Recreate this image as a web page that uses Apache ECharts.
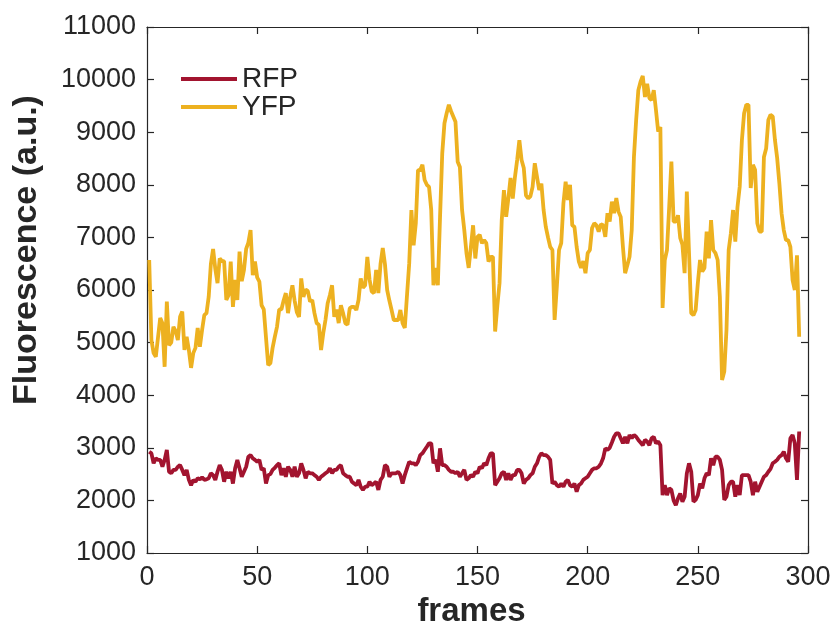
<!DOCTYPE html>
<html>
<head>
<meta charset="utf-8">
<script src="https://cdn.jsdelivr.net/npm/echarts@6/dist/echarts.min.js"></script>
<style>
  html, body { margin: 0; padding: 0; background: #fff; }
  #chart { width: 835px; height: 621px; }
</style>
</head>
<body>
<div id="chart"></div>
<script>
// fluorescence per frame (frames 1..296)
const rfp = [
  2926, 2895, 2705, 2800, 2770, 2770, 2640, 2770, 2958, 2545,
  2515, 2580, 2580, 2640, 2670, 2580, 2480, 2580, 2390, 2290,
  2390, 2355, 2420, 2400, 2440, 2390, 2400, 2420, 2515, 2480,
  2390, 2545, 2670, 2580, 2355, 2545, 2420, 2545, 2320, 2610,
  2770, 2610, 2450, 2545, 2640, 2830, 2860, 2800, 2770, 2735,
  2770, 2580, 2610, 2320, 2480, 2500, 2580, 2620, 2670, 2705,
  2480, 2610, 2450, 2640, 2580, 2450, 2640, 2450, 2515, 2705,
  2580, 2420, 2545, 2515, 2515, 2480, 2450, 2390, 2450, 2480,
  2515, 2545, 2610, 2515, 2580, 2580, 2640, 2670, 2515, 2480,
  2450, 2450, 2355, 2320, 2290, 2390, 2260, 2200, 2260, 2260,
  2355, 2290, 2320, 2355, 2200, 2390, 2450, 2670, 2640, 2450,
  2515, 2515, 2515, 2545, 2480, 2320, 2480, 2610, 2735, 2705,
  2705, 2670, 2735, 2860, 2895, 2958, 3020, 3085, 3085, 2705,
  2770, 2545, 2990, 2670, 2670, 2640, 2580, 2545, 2545, 2515,
  2545, 2450, 2515, 2580, 2390, 2420, 2480, 2450, 2545, 2515,
  2640, 2610, 2705, 2670, 2800, 2895, 2895, 2290, 2355, 2420,
  2515, 2545, 2390, 2515, 2390, 2480, 2480, 2580, 2580, 2515,
  2320, 2390, 2420, 2480, 2515, 2640, 2705, 2830, 2895, 2860,
  2860, 2830, 2770, 2320, 2355, 2290, 2260, 2320, 2260, 2355,
  2390, 2290, 2260, 2320, 2165, 2290, 2320, 2390, 2420, 2450,
  2515, 2580, 2610, 2610, 2640, 2700, 2800, 2990, 2958, 3000,
  3100, 3210, 3275, 3275, 3180, 3085, 3210, 3085, 3245, 3180,
  3245, 3210, 3150, 3100, 3050, 3150, 3120, 3050, 3180, 3210,
  3085, 3120, 3050, 2100, 2290, 2100, 2230, 2200, 2000, 1910,
  2040, 2130, 1975, 2070, 2515, 2705, 2545, 1975, 2010, 2100,
  2320, 2230, 2420, 2515, 2480, 2800, 2670, 2830, 2830, 2770,
  2580, 2010, 2070, 2290, 2355, 2355, 2070, 2290, 2100, 2480,
  2480, 2480, 2480, 2355, 2100, 2355, 2165, 2260, 2355, 2450,
  2480, 2545, 2600, 2705, 2735, 2770, 2830, 2860, 2926, 2800,
  2735, 3180, 3245, 3085, 2390, 3310
];
const yfp = [
  6570, 5050, 4800, 4730, 5100, 5470, 5370, 4540, 5780, 4950,
  5000, 5300, 5220, 5050, 5490, 5590, 4860, 5110, 4860, 4520,
  4800, 4900, 5280, 4920, 5240, 5520, 5560, 5870, 6500, 6780,
  6400, 6130, 6600, 6550, 6550, 5810, 5900, 6540, 5680, 6190,
  5810, 6730, 6170, 6380, 6780, 6900, 7140, 6280, 6540, 6240,
  6160, 5710, 5630, 5100, 4570, 4610, 4900, 5110, 5300, 5630,
  5630, 5800, 5940, 5560, 5870, 6090, 5800, 5580, 5490, 6220,
  5870, 6010, 5980, 5780, 5810, 5560, 5370, 5340, 4860, 5180,
  5430, 5750, 5900, 6090, 5490, 5630, 5370, 5710, 5560, 5370,
  5340, 5650, 5680, 5680, 5620, 5810, 6220, 6040, 6090, 6630,
  6200, 5970, 5940, 6380, 5940, 6500, 6800, 6490, 6000, 5800,
  5620, 5430, 5430, 5430, 5620, 5370, 5280, 5900, 6500, 7520,
  6850, 7270, 8280, 8280, 8380, 8090, 8000, 7960, 7520, 6090,
  6420, 6090, 7390, 8600, 9170, 9360, 9520, 9400, 9300, 9200,
  8440, 8340, 7520, 7140, 6700, 6420, 6820, 7230, 6600, 7010,
  7050, 6890, 6950, 6890, 6540, 6630, 6630, 5210, 5700, 6130,
  7330, 7900, 7390, 7740, 8130, 7740, 8150, 8470, 8850, 8470,
  8320, 7800, 7740, 7780, 7960, 8410, 8150, 7900, 8020, 7520,
  7200, 7000, 6820, 6760, 5430, 6060, 6760, 6890, 7650, 8060,
  7710, 8000, 7230, 7200, 6820, 6540, 6420, 6550, 6320, 6700,
  6760, 7180, 7270, 7230, 7110, 7250, 7230, 7010, 7460, 7300,
  7680, 7460, 7750, 7490, 7390, 6820, 6320, 6470, 6630, 7140,
  8530, 9230, 9800, 9960, 10070, 9670, 9920, 9650, 9610, 9800,
  9420, 9010, 9100, 5660, 6570, 6760, 7580, 8440, 7300, 7300,
  7420, 6990, 6860, 6320, 7870, 6700, 5560, 5520, 5620, 6130,
  6570, 6350, 6420, 7110, 6600, 7330, 6760, 6700, 6570, 5870,
  4290, 4450, 5240, 6760, 7080, 7520, 6920, 7580, 7960, 8850,
  9360, 9520, 9520, 7940, 8380, 8280, 7270, 7110, 7110, 8530,
  8690, 9230, 9330, 9300, 8850, 8510, 8030, 7460, 7140, 6950,
  6950, 6820, 6190, 6000, 6660, 5110
];
const xTicks = [0, 50, 100, 150, 200, 250, 300];
const yTicks = [1000, 2000, 3000, 4000, 5000, 6000, 7000, 8000, 9000, 10000, 11000];

const axisColor = '#262626';
const font = 'Liberation Sans, Arial, sans-serif';

const chart = echarts.init(document.getElementById('chart'), null, { renderer: 'canvas' });

const toPairs = arr => arr.map((v, i) => [i + 1, v]);

const xBase = {
  type: 'value',
  min: xTicks[0],
  max: xTicks[xTicks.length - 1],
  interval: 50,
  axisLine: { show: true, onZero: false, lineStyle: { color: axisColor, width: 1.2 } },
  axisTick: { show: true, inside: true, length: 7, lineStyle: { color: axisColor, width: 1.2 } },
  splitLine: { show: false }
};
const yBase = {
  type: 'value',
  min: yTicks[0],
  max: yTicks[yTicks.length - 1],
  interval: 1000,
  axisLine: { show: true, onZero: false, lineStyle: { color: axisColor, width: 1.2 } },
  axisTick: { show: true, inside: true, length: 7, lineStyle: { color: axisColor, width: 1.2 } },
  splitLine: { show: false }
};

const option = {
  backgroundColor: '#fff',
  animation: false,
  grid: { left: 147, right: 27, top: 27, bottom: 68, containLabel: false, outerBoundsMode: 'none' },
  legend: {
    left: 176,
    top: 60,
    orient: 'vertical',
    icon: 'rect',
    itemWidth: 56,
    itemHeight: 4,
    itemGap: 0,
    textStyle: { fontFamily: font, fontSize: 28, lineHeight: 27, color: axisColor },
    data: ['RFP', 'YFP']
  },
  xAxis: [
    Object.assign({}, xBase, {
      position: 'bottom',
      name: 'frames',
      nameLocation: 'middle',
      nameGap: 35,
      nameTextStyle: { fontFamily: font, fontSize: 33, fontWeight: 'bold', color: axisColor, padding: [0, 12, 0, 0] },
      axisLabel: { fontFamily: font, fontSize: 27, color: axisColor, margin: 11 }
    }),
    Object.assign({}, xBase, { position: 'top', axisLabel: { show: false } })
  ],
  yAxis: [
    Object.assign({}, yBase, {
      position: 'left',
      name: 'Fluorescence (a.u.)',
      nameLocation: 'middle',
      nameGap: 103,
      nameTextStyle: { fontFamily: font, fontSize: 34, fontWeight: 'bold', color: axisColor, padding: [0, 0, 0, 80] },
      axisLabel: { fontFamily: font, fontSize: 27, color: axisColor, margin: 11, formatter: v => String(v) }
    }),
    Object.assign({}, yBase, { position: 'right', axisLabel: { show: false } })
  ],
  series: [
    {
      name: 'RFP',
      type: 'line',
      data: toPairs(rfp),
      showSymbol: false,
      symbol: 'none',
      lineStyle: { color: '#A2142F', width: 3.8 },
      itemStyle: { color: '#A2142F' }
    },
    {
      name: 'YFP',
      type: 'line',
      data: toPairs(yfp),
      showSymbol: false,
      symbol: 'none',
      lineStyle: { color: '#EDB120', width: 3.8 },
      itemStyle: { color: '#EDB120' }
    }
  ]
};

chart.setOption(option);
</script>
</body>
</html>
